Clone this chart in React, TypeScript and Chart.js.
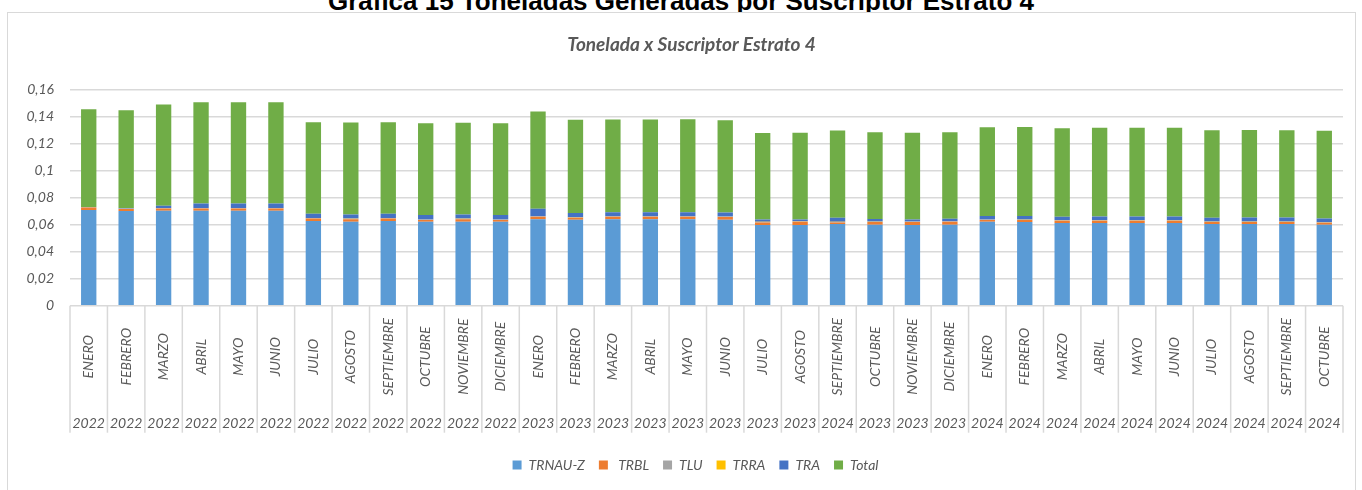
import React, { useEffect, useRef } from "react";
import { Chart, registerables } from "chart.js";

Chart.register(...registerables);

const months = [
  "ENERO", "FEBRERO", "MARZO", "ABRIL", "MAYO", "JUNIO", "JULIO", "AGOSTO", "SEPTIEMBRE", "OCTUBRE", "NOVIEMBRE", "DICIEMBRE",
  "ENERO", "FEBRERO", "MARZO", "ABRIL", "MAYO", "JUNIO", "JULIO", "AGOSTO", "SEPTIEMBRE", "OCTUBRE", "NOVIEMBRE", "DICIEMBRE",
  "ENERO", "FEBRERO", "MARZO", "ABRIL", "MAYO", "JUNIO", "JULIO", "AGOSTO", "SEPTIEMBRE", "OCTUBRE",
];

const years = [
  "2022", "2022", "2022", "2022", "2022", "2022", "2022", "2022", "2022", "2022", "2022", "2022",
  "2023", "2023", "2023", "2023", "2023", "2023", "2023", "2023", "2024", "2023", "2023", "2023",
  "2024", "2024", "2024", "2024", "2024", "2024", "2024", "2024", "2024", "2024",
];

const trnauz = [
  0.0708, 0.0700, 0.0702, 0.0702, 0.0702, 0.0702, 0.0626, 0.0621, 0.0626, 0.0621, 0.0621, 0.0621,
  0.0639, 0.0636, 0.0639, 0.0639, 0.0639, 0.0635, 0.0597, 0.0597, 0.0604, 0.0599, 0.0597, 0.0599,
  0.0620, 0.0619, 0.0612, 0.0612, 0.0612, 0.0612, 0.0604, 0.0604, 0.0604, 0.0599,
];

const trbl = [
  0.0018, 0.0015, 0.0017, 0.0017, 0.0017, 0.0017, 0.0019, 0.0019, 0.0019, 0.0013, 0.0019, 0.0013,
  0.0019, 0.0014, 0.0019, 0.0019, 0.0019, 0.0021, 0.0019, 0.0023, 0.0012, 0.0019, 0.0022, 0.0022,
  0.0014, 0.0014, 0.0017, 0.0017, 0.0017, 0.0017, 0.0014, 0.0014, 0.0014, 0.0014,
];

const tlu = [
  0.0003, 0.0003, 0.0003, 0.0003, 0.0003, 0.0003, 0.0003, 0.0003, 0.0003, 0.0003, 0.0003, 0.0003,
  0.0003, 0.0003, 0.0003, 0.0003, 0.0003, 0.0003, 0.0003, 0.0003, 0.0003, 0.0003, 0.0003, 0.0003,
  0.0003, 0.0003, 0.0003, 0.0003, 0.0003, 0.0003, 0.0003, 0.0003, 0.0003, 0.0003,
];

const trra = [
  0.0001, 0.0001, 0.0001, 0.0001, 0.0001, 0.0001, 0.0001, 0.0001, 0.0001, 0.0001, 0.0001, 0.0001,
  0.0001, 0.0001, 0.0001, 0.0001, 0.0001, 0.0001, 0.0001, 0.0001, 0.0001, 0.0001, 0.0001, 0.0001,
  0.0001, 0.0001, 0.0001, 0.0001, 0.0001, 0.0001, 0.0001, 0.0001, 0.0001, 0.0001,
];

const tra = [
  0.0000, 0.0003, 0.0016, 0.0032, 0.0032, 0.0032, 0.0031, 0.0031, 0.0031, 0.0033, 0.0031, 0.0033,
  0.0055, 0.0031, 0.0029, 0.0029, 0.0029, 0.0029, 0.0017, 0.0013, 0.0031, 0.0019, 0.0015, 0.0017,
  0.0026, 0.0026, 0.0025, 0.0027, 0.0027, 0.0027, 0.0029, 0.0031, 0.0031, 0.0027,
];

const total = [
  0.0722, 0.0723, 0.0748, 0.0749, 0.0749, 0.0749, 0.0677, 0.0679, 0.0677, 0.0678, 0.0677, 0.0678,
  0.0718, 0.0689, 0.0685, 0.0685, 0.0688, 0.0682, 0.0639, 0.0641, 0.0644, 0.0642, 0.0640, 0.0641,
  0.0656, 0.0659, 0.0654, 0.0655, 0.0655, 0.0655, 0.0647, 0.0647, 0.0645, 0.0649,
];

const yTickLabels = ["0", "0,02", "0,04", "0,06", "0,08", "0,1", "0,12", "0,14", "0,16"];

const seriesNames = ["TRNAU-Z", " TRBL", "TLU", "TRRA", "TRA", "Total"];
const seriesColors = ["#5B9BD5", "#ED7D31", "#A5A5A5", "#FFC000", "#4472C4", "#70AD47"];

const TEXT = "#595959";
const GRID = "#d9d9d9";
const FONT = "Lato, 'Open Sans', sans-serif";

const shiftBoxesPlugin = {
  id: "shiftBoxes",
  afterLayout(chart: any) {
    const lg = chart.legend;
    if (lg) {
      lg.left += 20;
      lg.right += 20;
    }
    const tb = chart.titleBlock;
    if (tb) {
      tb.left += 16;
      tb.right += 16;
    }
  },
};

const catAxisPlugin = {
  id: "catAxis",
  afterDraw(chart: any) {
    const { ctx, chartArea, scales } = chart;
    const xs = scales.x;
    const n = months.length;
    const w = (chartArea.right - chartArea.left) / n;
    const top = chartArea.bottom;
    ctx.save();
    ctx.strokeStyle = GRID;
    ctx.lineWidth = 1.5;
    for (let i = 0; i <= n; i++) {
      const px = chartArea.left + i * w;
      ctx.beginPath();
      ctx.moveTo(px, top);
      ctx.lineTo(px, top + 127);
      ctx.stroke();
    }
    ctx.fillStyle = TEXT;
    ctx.font = `italic 14px ${FONT}`;
    ctx.textAlign = "center";
    ctx.textBaseline = "middle";
    for (let i = 0; i < n; i++) {
      const cx = xs.getPixelForValue(i);
      ctx.save();
      ctx.translate(cx, top + 51);
      ctx.rotate(-Math.PI / 2);
      ctx.fillText(months[i], 0, 0);
      ctx.restore();
      ctx.fillText(years[i], cx, top + 118);
    }
    ctx.restore();
  },
};

export default function App() {
  const ref = useRef<HTMLCanvasElement>(null);

  useEffect(() => {
    const values = [trnauz, trbl, tlu, trra, tra, total];
    const chart = new Chart(ref.current as HTMLCanvasElement, {
      type: "bar",
      data: {
        labels: months.map((m, i) => `${m} ${years[i]}`),
        datasets: values.map((d, k) => ({
          label: seriesNames[k],
          data: d,
          backgroundColor: seriesColors[k],
          borderWidth: 0,
          barPercentage: 0.41,
          categoryPercentage: 1,
        })),
      },
      options: {
        animation: false,
        responsive: false,
        devicePixelRatio: 1,
        layout: { padding: { left: 0, right: 12, top: 0, bottom: 8 } },
        plugins: {
          tooltip: { enabled: false },
          title: {
            display: true,
            text: "Tonelada x Suscriptor Estrato 4",
            color: TEXT,
            font: { family: FONT, size: 19, style: "italic", weight: "bold", lineHeight: 1.2 },
            padding: { top: 20.6, bottom: 32.9 },
          },
          legend: {
            display: true,
            position: "bottom",
            labels: {
              boxWidth: 9,
              boxHeight: 9,
              padding: 14,
              color: TEXT,
              font: { family: FONT, size: 14, style: "italic" },
            },
          },
        },
        scales: {
          x: {
            stacked: true,
            offset: true,
            grid: { display: false },
            border: { display: false },
            ticks: { display: false },
            afterFit: (s: any) => {
              s.height = 138.3;
            },
          },
          y: {
            stacked: true,
            min: 0,
            max: 0.16,
            grid: { color: GRID, lineWidth: 1.5, drawTicks: false },
            border: { display: false },
            ticks: {
              stepSize: 0.02,
              padding: 16,
              color: TEXT,
              font: { family: FONT, size: 14, style: "italic" },
              callback: (v: any) => yTickLabels[Math.round(Number(v) / 0.02)],
            },
            afterFit: (s: any) => {
              s.width = 62;
            },
          },
        },
      },
      plugins: [shiftBoxesPlugin, catAxisPlugin],
    } as any);
    return () => chart.destroy();
  }, []);

  return (
    <div style={{ position: "fixed", left: 0, top: 0, width: 1362, height: 490, overflow: "hidden", background: "#fff" }}>
      <div
        style={{
          position: "absolute",
          left: 0,
          top: -12,
          width: 1362,
          textAlign: "center",
          fontFamily: "'Liberation Sans', Arial, sans-serif",
          fontWeight: "bold",
          fontSize: 26,
          lineHeight: "26px",
          color: "#000",
          whiteSpace: "nowrap",
        }}
      >
        Gráfica 15 Toneladas Generadas por Suscriptor Estrato 4
      </div>
      <div
        style={{
          position: "absolute",
          left: 7,
          top: 12,
          width: 1347,
          height: 477,
          border: `1px solid ${GRID}`,
          background: "#fff",
        }}
      >
        <canvas ref={ref} width={1347} height={477} style={{ display: "block", width: 1347, height: 477 }} />
      </div>
    </div>
  );
}
